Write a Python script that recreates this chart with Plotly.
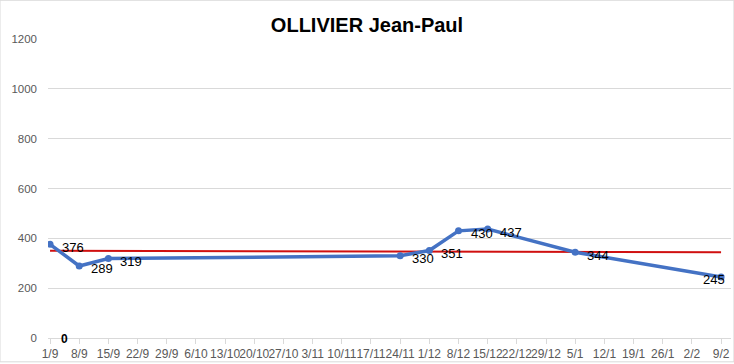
import plotly.graph_objects as go

dates = ["1/9", "8/9", "15/9", "22/9", "29/9", "6/10", "13/10", "20/10", "27/10",
         "3/11", "10/11", "17/11", "24/11", "1/12", "8/12", "15/12", "22/12", "29/12",
         "5/1", "12/1", "19/1", "26/1", "2/2", "9/2"]
values = [376, 289, 319, None, None, None, None, None, None,
          None, None, None, 330, 351, 430, 437, None, None,
          344, None, None, None, None, 245]
trend_x = ["1/9", "9/2"]
trend_y = [350, 344]
y_ticks = [0, 200, 400, 600, 800, 1000, 1200]

xs = list(range(len(dates)))

fig = go.Figure()
fig.add_trace(go.Scatter(
    x=[dates.index(d) for d in trend_x], y=trend_y, mode="lines",
    line=dict(color="#D01010", width=2), showlegend=False, hoverinfo="skip"))
fig.add_trace(go.Scatter(
    x=xs, y=values, mode="lines+markers", connectgaps=True,
    line=dict(color="#4472C4", width=3.5),
    marker=dict(color="#4472C4", size=7),
    showlegend=False, hoverinfo="skip"))

annotations = []
last = max(i for i, v in enumerate(values) if v is not None)
for i, v in enumerate(values):
    if v is None:
        continue
    if i == last:
        annotations.append(dict(text=str(v), x=i, y=v, xref="x", yref="y",
                                xanchor="right", yanchor="middle", showarrow=False,
                                xshift=6, yshift=-3,
                                font=dict(family="Liberation Sans, Arial", size=13, color="#000000")))
    else:
        annotations.append(dict(text=str(v), x=i, y=v, xref="x", yref="y",
                                xanchor="left", yanchor="middle", showarrow=False,
                                xshift=10, yshift=-3,
                                font=dict(family="Liberation Sans, Arial", size=13, color="#000000")))
annotations.append(dict(text="<b>0</b>", x=0.5, y=0, xref="x", yref="y", xanchor="center",
                        yanchor="middle", showarrow=False, yshift=-1,
                        font=dict(family="Liberation Sans, Arial", size=12, color="#000000")))

fig.update_layout(
    width=734, height=364,
    margin=dict(l=48, r=3, t=39, b=24),
    paper_bgcolor="white", plot_bgcolor="white",
    title=dict(text="<b>OLLIVIER Jean-Paul</b>", x=0.5, xanchor="center",
               y=1 - 25 / 364, yanchor="middle",
               font=dict(family="Liberation Sans, Arial", size=20, color="#000000")),
    xaxis=dict(range=[-0.07, 23.34], tickmode="array", tickvals=xs, ticktext=dates,
               tickangle=0, showgrid=False, zeroline=False,
               showline=True, linecolor="#D9D9D9", linewidth=1,
               ticks="outside", ticklen=5, tickcolor="#D9D9D9",
               tickfont=dict(family="Liberation Sans, Arial", size=12, color="#595959")),
    yaxis=dict(range=[0, 1200], tickmode="array", tickvals=y_ticks,
               showgrid=True, gridcolor="#D9D9D9", gridwidth=1, zeroline=False,
               ticks="", ticklabelstandoff=10,
               tickfont=dict(family="Liberation Sans, Arial", size=11.5, color="#595959")),
    shapes=[dict(type="rect", xref="paper", yref="paper", x0=-48/683, x1=1+3/683 - 0.0001,
                 y0=-24/301, y1=1+39/301, line=dict(color="#D9D9D9", width=1))],
    annotations=annotations,
)

fig.write_html("out.html")
